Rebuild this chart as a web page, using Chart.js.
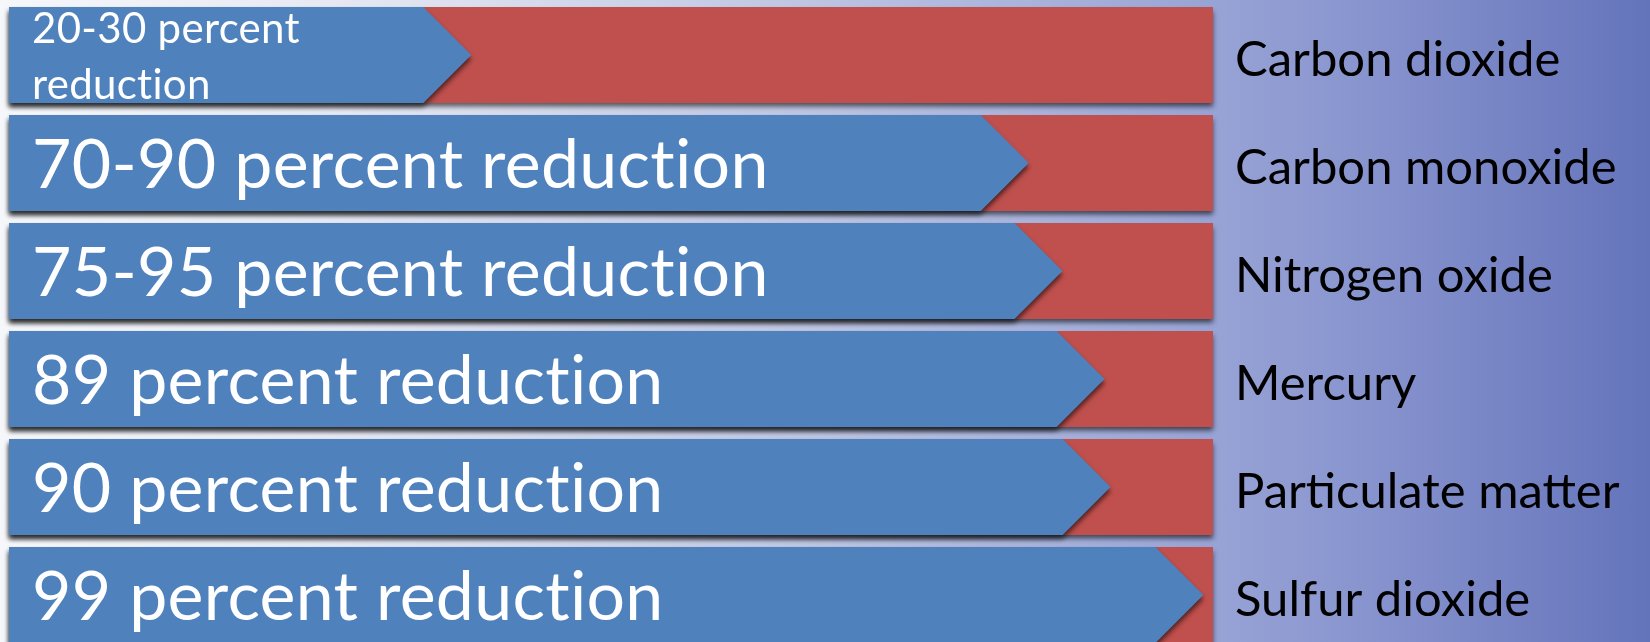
<!DOCTYPE html>
<html>
<head>
<meta charset="utf-8">
<script src="https://cdn.jsdelivr.net/npm/chart.js@4/dist/chart.umd.min.js"></script>
<style>
    html, body { margin: 0; padding: 0; overflow: hidden; }
    body {
        width: 1650px; height: 642px;
        background: linear-gradient(to right, #f6f7fb 0%, #e6e9f3 20%, #bcc4e2 50%, #97a3d5 74%, #8490cc 85%, #6474bb 100%);
    }
    canvas { display: block; }
</style>
</head>
<body>
<canvas id="chart" width="1650" height="650"></canvas>
<script>
(function () {
    // Contaminantes (etiquetas del eje derecho)
    const pollutants = ["Carbon dioxide", "Carbon monoxide", "Nitrogen oxide", "Mercury", "Particulate matter", "Sulfur dioxide"];
    // Texto dentro de cada flecha azul
    const reductionText = [["20-30 percent", "reduction"], "70-90 percent reduction", "75-95 percent reduction", "89 percent reduction", "90 percent reduction", "99 percent reduction"];
    const reductionLength = [38.4, 84.7, 87.5, 91.0, 91.5, 99.2];
    // Barra roja de fondo (total)
    const totalShare = [100, 100, 100, 100, 100, 100];

    const BLUE = '#4f81bd';
    const RED = '#c0504d';

    // Plugin que dibuja las barras como flechas con sombra
    const arrowBars = {
        id: 'arrowBars',
        beforeDatasetDraw(chart, args) {
            const ctx = chart.ctx;
            const isArrow = args.index === 0;
            ctx.save();
            ctx.shadowColor = 'rgba(0,0,0,0.6)';
            ctx.shadowBlur = 5;
            ctx.shadowOffsetX = 0;
            ctx.shadowOffsetY = 4;
            ctx.fillStyle = isArrow ? BLUE : RED;
            args.meta.data.forEach(el => {
                const p = el.getProps(['x', 'y', 'base', 'height'], true);
                const top = p.y - p.height / 2;
                const bottom = p.y + p.height / 2;
                ctx.beginPath();
                if (isArrow) {
                    const head = p.height / 2;
                    ctx.moveTo(p.base, top);
                    ctx.lineTo(p.x - head, top);
                    ctx.lineTo(p.x, p.y);
                    ctx.lineTo(p.x - head, bottom);
                    ctx.lineTo(p.base, bottom);
                } else {
                    ctx.rect(p.base, top, p.x - p.base, p.height);
                }
                ctx.closePath();
                ctx.fill();
            });
            ctx.restore();
            return false;
        },
        afterDatasetsDraw(chart) {
            const ctx = chart.ctx;
            const meta = chart.getDatasetMeta(0);
            ctx.save();
            ctx.fillStyle = '#ffffff';
            ctx.textAlign = 'left';
            ctx.textBaseline = 'alphabetic';
            ctx.letterSpacing = '0.3px';
            meta.data.forEach((el, i) => {
                const p = el.getProps(['y', 'base'], true);
                const txt = reductionText[i];
                if (Array.isArray(txt)) {
                    const size = 42, lh = 56;
                    ctx.font = size + 'px Lato';
                    const b0 = p.y + 0.37 * size - lh / 2;
                    txt.forEach((line, k) => ctx.fillText(line, p.base + 23, b0 + k * lh));
                } else {
                    const size = 68;
                    ctx.font = size + 'px Lato';
                    ctx.fillText(txt, p.base + 23, p.y + 0.37 * size);
                }
            });
            ctx.restore();
        }
    };

    const ctx = document.getElementById('chart').getContext('2d');
    new Chart(ctx, {
        type: 'bar',
        data: {
            labels: pollutants,
            datasets: [{
                label: 'Reduction',
                data: reductionLength,
                backgroundColor: BLUE
            }, {
                label: 'Total',
                data: totalShare,
                backgroundColor: RED
            }]
        },
        options: {
            indexAxis: 'y',
            responsive: false,
            devicePixelRatio: 1,
            animation: false,
            layout: { padding: { left: 9, top: 1, bottom: 1, right: 0 } },
            datasets: {
                bar: { grouped: false, categoryPercentage: 1, barPercentage: 0.889 }
            },
            plugins: {
                legend: { display: false },
                tooltip: { enabled: false }
            },
            scales: {
                x: { min: 0, max: 100, display: false },
                y: {
                    position: 'right',
                    grid: { display: false, drawTicks: false },
                    border: { display: false },
                    ticks: {
                        color: '#000000',
                        padding: 22,
                        labelOffset: 5,
                        font: { family: 'Lato', size: 49 }
                    },
                    afterFit(scale) {
                        scale.width = 437;
                        scale.paddingTop = 0;
                        scale.paddingBottom = 0;
                    }
                }
            }
        },
        plugins: [arrowBars]
    });
})();
</script>
</body>
</html>
